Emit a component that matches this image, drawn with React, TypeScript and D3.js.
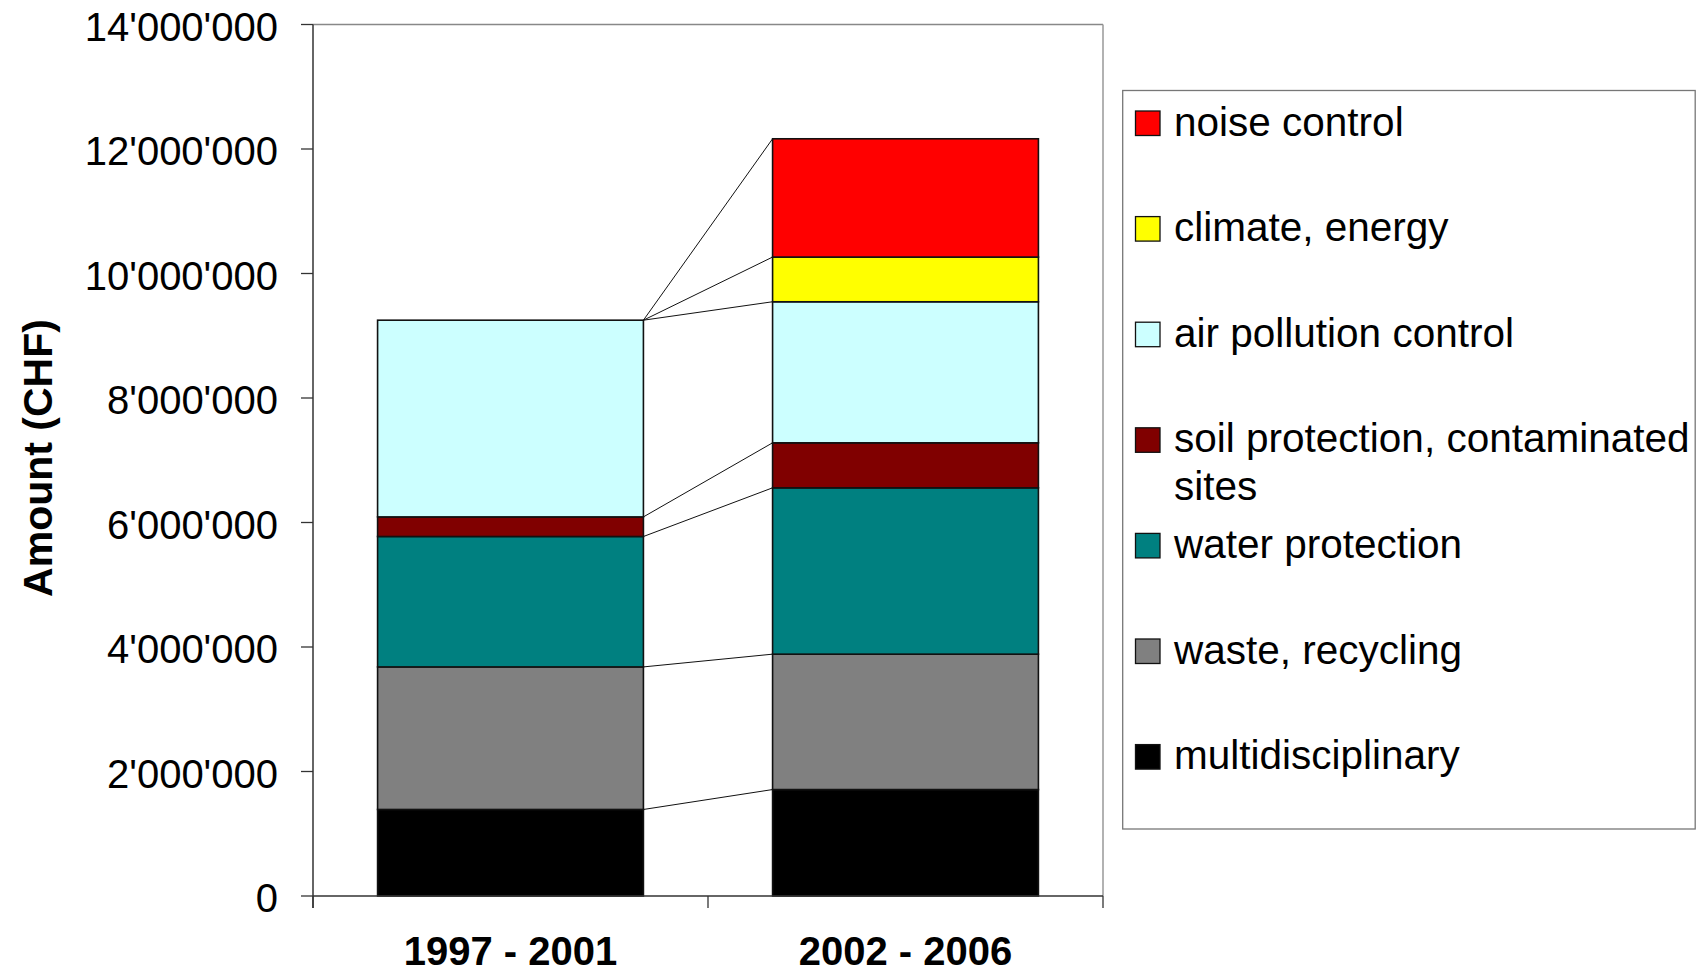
import React from "react";
import * as d3 from "d3";

const categories = ["1997 - 2001", "2002 - 2006"];
const seriesNames = [
  "multidisciplinary",
  "waste, recycling",
  "water protection",
  "soil protection, contaminated sites",
  "air pollution control",
  "climate, energy",
  "noise control",
];
const multidisciplinary = [1390000, 1710000];
const wasteRecycling = [2290000, 2175000];
const waterProtection = [2095000, 2672000];
const soilProtection = [315000, 723000];
const airPollution = [3160000, 2266000];
const climateEnergy = [0, 718000];
const noiseControl = [0, 1900000];
const seriesColors = ["#000000", "#808080", "#008080", "#800000", "#CCFFFF", "#FFFF00", "#FF0000"];
const yTicks = [0, 2000000, 4000000, 6000000, 8000000, 10000000, 12000000, 14000000];

const FONT = "'Liberation Sans', Arial, Helvetica, sans-serif";

export default function App() {
  const W = 1704, H = 974;
  const left = 313, right = 1103, top = 24.5, bottom = 896;
  const y = d3.scaleLinear().domain([0, 14000000]).range([bottom, top]);
  const x = d3.scaleBand<string>().domain(categories).range([left, right]).padding(0);
  const barW = x.bandwidth() * 0.673;
  const fmt = d3.formatLocale({ thousands: "'", grouping: [3], decimal: ".", currency: ["", ""] }).format(",");

  const values = [multidisciplinary, wasteRecycling, waterProtection, soilProtection, airPollution, climateEnergy, noiseControl];
  const table = categories.map((c, ci) => {
    const row: any = { cat: c };
    seriesNames.forEach((s, si) => (row[s] = values[si][ci]));
    return row;
  });
  const stacked = d3.stack<any>().keys(seriesNames)(table);

  const barLeft = (c: string) => (x(c) as number) + (x.bandwidth() - barW) / 2;

  const legendX = 1122.7, legendY = 90.5, legendW = 572.5, legendH = 738.5;
  const rowStart = 123, rowStep = 105.6;
  const legendOrder = [6, 5, 4, 3, 2, 1, 0];
  const legendLines: Record<number, string[]> = { 3: ["soil protection, contaminated", "sites"] };

  return (
    <svg width={W} height={H} style={{ position: "absolute", left: 0, top: 0, background: "#fff" }} fontFamily={FONT}>
      <rect x={0} y={0} width={W} height={H} fill="#fff" />
      {/* plot border top & right */}
      <line x1={left} x2={right} y1={top} y2={top} stroke="#888" strokeWidth={1.3} />
      <line x1={right} x2={right} y1={top} y2={bottom} stroke="#999" strokeWidth={1.5} />

      {/* bars */}
      {stacked.map((layer, si) =>
        layer.map((d, ci) => {
          const h = y(d[0]) - y(d[1]);
          if (h <= 0) return null;
          const c = categories[ci];
          return (
            <rect
              key={`${si}-${ci}`}
              x={barLeft(c)}
              y={y(d[1])}
              width={barW}
              height={h}
              fill={seriesColors[si]}
              stroke="#111"
              strokeWidth={1.6}
            />
          );
        })
      )}

      {/* series connector lines */}
      {stacked.map((layer, si) => (
        <line
          key={`l${si}`}
          x1={barLeft(categories[0]) + barW}
          y1={y(layer[0][1])}
          x2={barLeft(categories[1])}
          y2={y(layer[1][1])}
          stroke="#111"
          strokeWidth={1}
        />
      ))}

      {/* y axis */}
      <line x1={left} x2={left} y1={top} y2={bottom + 12} stroke="#333" strokeWidth={1.5} />
      {yTicks.map((t) => (
        <g key={t}>
          <line x1={left - 12} x2={left} y1={y(t)} y2={y(t)} stroke="#333" strokeWidth={1.3} />
          <text x={278} y={y(t) + 16} textAnchor="end" fontSize={40} fill="#000">
            {fmt(t)}
          </text>
        </g>
      ))}

      {/* x axis */}
      <line x1={left} x2={right} y1={bottom} y2={bottom} stroke="#333" strokeWidth={1.5} />
      {[left, left + x.step(), right].map((t, i) => (
        <line key={i} x1={t} x2={t} y1={bottom} y2={bottom + 12} stroke="#333" strokeWidth={1.3} />
      ))}
      {categories.map((c) => (
        <text key={c} x={(x(c) as number) + x.bandwidth() / 2} y={965} textAnchor="middle" fontSize={40} fontWeight="bold">
          {c}
        </text>
      ))}

      {/* y axis title */}
      <text transform={`translate(52, 458) rotate(-90)`} textAnchor="middle" fontSize={41} fontWeight="bold">
        Amount (CHF)
      </text>

      {/* legend */}
      <rect x={legendX} y={legendY} width={legendW} height={legendH} fill="#fff" stroke="#777" strokeWidth={1.3} />
      {legendOrder.map((si, i) => {
        const cy = rowStart + i * rowStep;
        const lines = legendLines[si] || [seriesNames[si]];
        return (
          <g key={si}>
            <rect x={1135.5} y={cy - 12} width={24.5} height={24.5} fill={seriesColors[si]} stroke="#111" strokeWidth={1.3} />
            {lines.map((ln, li) => (
              <text key={li} x={1174} y={cy + 12.5 + li * 48} fontSize={40.5} fill="#000">
                {ln}
              </text>
            ))}
          </g>
        );
      })}
    </svg>
  );
}
